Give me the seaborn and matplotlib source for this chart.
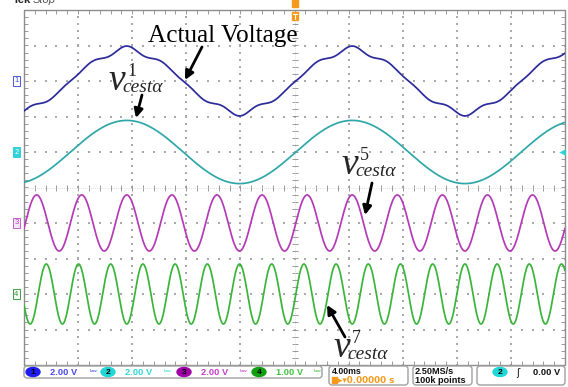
import numpy as np
import pandas as pd
import matplotlib
matplotlib.use("Agg")
import matplotlib.pyplot as plt
import seaborn as sns
from matplotlib.collections import LineCollection
from matplotlib.patches import FancyBboxPatch, Ellipse, Rectangle

# ---------------- scope settings ----------------
time_per_div_ms = 4.0
n_hdiv = 10
n_vdiv = 10
line_freq_hz = 60.0
trigger_delay_ms = 0.1

channel_ids = ["1", "2", "3", "4"]
volts_per_div = [2.00, 2.00, 2.00, 1.00]
ref_level_div = [3.0, 1.0, -1.0, -3.0]
trace_colors = ["#2b2b9c", "#2fa7a9", "#b43bb6", "#3cb43c"]

# harmonic content of each trace: harmonic order and peak volts
actual_orders = [1, 5, 7]
actual_peaks_v = [1.77, 0.106, -0.093]
fund_orders = [1]
fund_peaks_v = [1.78]
h5_orders = [5]
h5_peaks_v = [1.58]
h7_orders = [7]
h7_peaks_v = [0.845]

# status bar
ch_scale_labels = ["2.00 V", "2.00 V", "2.00 V", "1.00 V"]
timebase_label = "4.00ms"
position_label = "0.00000 s"
rate_label = "2.50MS/s"
length_label = "100k points"
trig_level_label = "0.00 V"

W, H = 568, 387
sns.set_style("white")
fig = plt.figure(figsize=(W / 100, H / 100), dpi=100)
fig.patch.set_facecolor("white")

# graticule area in pixels
gx0, gx1, gy0, gy1 = 24, 565, 10, 365
ax = fig.add_axes([gx0 / W, 1 - gy1 / H, (gx1 - gx0) / W, (gy1 - gy0) / H])
half_t = time_per_div_ms * n_hdiv / 2
ax.set_xlim(-half_t, half_t)
ax.set_ylim(-n_vdiv / 2, n_vdiv / 2)
ax.set_axis_off()

# ---------------- graticule ----------------
dot_col = "#a9a9a9"
px_per_ms = (gx1 - gx0) / (2 * half_t)
px_per_div = (gy1 - gy0) / n_vdiv
pts = []
for k in range(-4, 5):
    if k == 0:
        continue
    xs = k * time_per_div_ms
    for y in np.arange(-5, 5.001, 0.2):
        pts.append((xs, y))
    for x in np.arange(-half_t, half_t + 0.001, time_per_div_ms / 5):
        pts.append((x, k))
pts = np.array(pts)
ax.scatter(pts[:, 0], pts[:, 1], s=0.9, marker="s", color=dot_col, linewidths=0, zorder=1)

segs = []
tlen_x = 3 / px_per_ms
tlen_y = 3 / px_per_div
for y in np.arange(-5, 5.001, 0.2):
    segs.append([(-tlen_x, y), (tlen_x, y)])
    segs.append([(-half_t, y), (-half_t + 1.3 * tlen_x, y)])
    segs.append([(half_t, y), (half_t - 1.3 * tlen_x, y)])
for x in np.arange(-half_t, half_t + 0.001, time_per_div_ms / 5):
    segs.append([(x, -tlen_y), (x, tlen_y)])
    segs.append([(x, 5), (x, 5 - 1.3 * tlen_y)])
    segs.append([(x, -5), (x, -5 + 1.3 * tlen_y)])
ax.add_collection(LineCollection(segs, colors="#9a9a9a", linewidths=0.7, zorder=1))
ax.plot([0, 0], [-5, 5], color="#c4c4c4", lw=0.5, ls=(0, (1, 2)), zorder=1)
ax.plot([-half_t, half_t], [0, 0], color="#c4c4c4", lw=0.5, ls=(0, (1, 2)), zorder=1)
ax.plot([-half_t, half_t, half_t, -half_t, -half_t], [-5, -5, 5, 5, -5],
        color="#8c8c8c", lw=1.0, zorder=2, clip_on=False)

# ---------------- traces ----------------
t_ms = np.linspace(-half_t, half_t, 3001)
theta = 2 * np.pi * line_freq_hz * (t_ms - trigger_delay_ms) / 1000.0


def trace(orders, peaks):
    v = np.zeros_like(theta)
    for k, a in zip(orders, peaks):
        v += a * np.sin(k * theta)
    return v


waves = [trace(actual_orders, actual_peaks_v), trace(fund_orders, fund_peaks_v),
         trace(h5_orders, h5_peaks_v), trace(h7_orders, h7_peaks_v)]
frames = []
for cid, v, vpd, ref in zip(channel_ids, waves, volts_per_div, ref_level_div):
    frames.append(pd.DataFrame({"time_ms": t_ms, "div": ref + v / vpd, "channel": cid}))
df = pd.concat(frames, ignore_index=True)
sns.lineplot(data=df, x="time_ms", y="div", hue="channel",
             palette=dict(zip(channel_ids, trace_colors)), estimator=None,
             legend=False, linewidth=1.25, ax=ax, zorder=3)
ax.set_xlim(-half_t, half_t)
ax.set_ylim(-n_vdiv / 2, n_vdiv / 2)
ax.set_axis_off()

# ---------------- overlay in pixel units ----------------
ov = fig.add_axes([0, 0, 1, 1])
ov.set_xlim(0, W)
ov.set_ylim(H, 0)
ov.set_axis_off()
ov.patch.set_visible(False)

sans = ["Liberation Sans", "DejaVu Sans"]
serif = ["Liberation Serif", "DejaVu Serif"]

# header, partly outside the figure
ov.text(13, 3, "Tek", fontsize=8, fontweight="bold", family=sans, va="baseline", color="#222222")
ov.text(33, 3, "Stop", fontsize=8, style="italic", family=sans, va="baseline", color="#555555")

# trigger position marker
ov.add_patch(Rectangle((292, -1), 5.5, 8, color="#f59a1b", zorder=5))
ov.add_patch(Rectangle((292, 12), 5.5, 8, color="#f59a1b", zorder=5))
ov.plot([294.75, 294.75], [14, 19], color="white", lw=0.8, zorder=6)
ov.plot([293, 296.5], [14, 14], color="white", lw=0.8, zorder=6)

# channel reference markers
ref_px = [gy0 + (5 - r) * px_per_div for r in ref_level_div]
mk_style = [("white", "#4a55e0", "#3a45d0"), ("#2fd2d8", "#2fd2d8", "white"),
            ("#f7e6f7", "#c060c8", "#b040b8"), ("white", "#3aa03a", "#2a902a")]
for cid, yp, (fc, ec, tc) in zip(channel_ids, ref_px, mk_style):
    ov.text(16.5, yp, cid, fontsize=5.5, family=sans, ha="center", va="center", color=tc,
            bbox=dict(boxstyle="square,pad=0.18", fc=fc, ec=ec, lw=0.7))

# trigger level arrow on the right edge
ov.scatter([562], [ref_px[1]], marker="<", s=22, color="#2fd2d8", zorder=6, linewidths=0)

# ---------------- annotations ----------------
ov.text(148, 42, "Actual Voltage", fontsize=18.2, family=serif, va="baseline", color="black")


def v_label(x, y, sup):
    ov.text(x, y, "v", fontsize=27, family=serif, style="italic", va="baseline")
    ov.text(x + 19, y - 14, sup, fontsize=13, family=serif, va="baseline")
    ov.text(x + 14, y + 2, "cest\u03b1", fontsize=14, family=serif, style="italic", va="baseline")


v_label(108, 90, "1")
v_label(341, 174, "5")
v_label(333, 357, "7")

arrow_kw = dict(arrowstyle="-|>", color="black", lw=2.0, mutation_scale=13, shrinkA=0, shrinkB=0)
for tail, head in [((202, 47), (185, 80)), ((142, 95), (136, 118)),
                   ((372, 183), (365, 215)), ((345, 337), (327, 305))]:
    ov.annotate("", xy=head, xytext=tail, arrowprops=arrow_kw)

# ---------------- status bar ----------------
box_kw = dict(boxstyle="round,pad=0,rounding_size=3", fc="white", ec="#a0a0a0", lw=1.0)
ov.add_patch(FancyBboxPatch((24, 366), 298, 12, **box_kw))
ov.add_patch(FancyBboxPatch((329, 366), 79, 19, **box_kw))
ov.add_patch(FancyBboxPatch((413, 366), 59, 19, **box_kw))
ov.add_patch(FancyBboxPatch((477, 366), 88, 19, **box_kw))

badge_fc = ["#1c1cf0", "#22d6d6", "#a000a8", "#10a010"]
label_col = ["#4848f0", "#30d8d8", "#c040c8", "#40c040"]
badge_x = [33, 108, 184, 259]
icon_x = [93, 168, 243, 318]
for cid, bx, ix, fc, lc, lab in zip(channel_ids, badge_x, icon_x, badge_fc, label_col, ch_scale_labels):
    ov.add_patch(Ellipse((bx, 372), 14, 9, color=fc, zorder=5))
    ov.text(bx, 372.5, cid, fontsize=6, family=sans, fontweight="bold", ha="center",
            va="center", color="black", zorder=6)
    ov.text(bx + 17, 372.5, lab, fontsize=6.7, family=sans, fontweight="bold",
            va="center", color=lc)
    ov.text(ix, 372.5, "\u1d47\u02b7", fontsize=6, family=["DejaVu Sans"], ha="center",
            va="center", color=lc)

ov.text(332, 371.8, timebase_label, fontsize=6.3, family=sans, fontweight="bold",
        va="center", color="#111111")
ov.add_patch(Rectangle((332, 377), 5, 6, color="#f59a1b", zorder=5))
ov.text(338, 380.6, "\u25b8\u25be" + position_label, fontsize=6.3, family=["DejaVu Sans"],
        fontweight="bold", va="center", color="#f59a1b")
ov.text(415, 371.8, rate_label, fontsize=6.6, family=sans, fontweight="bold",
        va="center", color="#111111")
ov.text(415, 380.6, length_label, fontsize=6.6, family=sans, fontweight="bold",
        va="center", color="#111111")
ov.add_patch(Ellipse((500, 372), 14, 9, color="#22d6d6", zorder=5))
ov.text(500, 372.5, "2", fontsize=6, family=sans, fontweight="bold", ha="center",
        va="center", color="black", zorder=6)
ov.text(518, 372.5, "\u0283", fontsize=7, family=["DejaVu Sans"], ha="center",
        va="center", color="#111111")
ov.text(533, 372.5, trig_level_label, fontsize=6.7, family=sans, fontweight="bold",
        va="center", color="#111111")

fig.savefig("out.png", dpi=100, facecolor="white")
